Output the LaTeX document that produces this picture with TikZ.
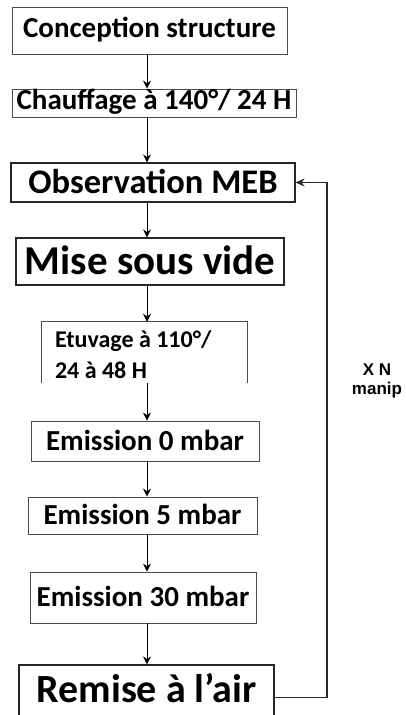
\documentclass[tikz,border=0pt]{standalone}
\usepackage{fontspec}
\setmainfont{Carlito}
\newfontfamily\manipfont{Liberation Sans}
\usetikzlibrary{arrows.meta}
\newcommand\boxfont[1]{\bfseries\fontsize{#1}{#1}\selectfont}

\begin{document}
\begin{tikzpicture}[
  x=1pt, y=-1pt,
  stage/.style={draw=black!70, line width=0.8pt, inner sep=0pt},
  bigstage/.style={stage, draw=black!85, line width=1.1pt},
  flow/.style={-{Stealth[length=8pt, width=8pt]}, line width=1pt},
  loopback/.style={-{Stealth[length=9pt, width=8pt]}, line width=1.8pt, black!85},
]
\useasboundingbox (0,0) rectangle (405,715);
\clip (0,0) rectangle (405,715);

% Arrow axis and return line
\coordinate (axis) at (147,0);
\coordinate (ret) at (327,0);

% Stages
\node[stage, minimum width=275pt, minimum height=47pt, text height=18.5pt,
      font=\boxfont{29}] (concep) at (149.5,30.5) {Conception structure};
\node[stage, minimum width=284pt, minimum height=28pt, text height=18.5pt,
      font=\boxfont{29}] (chauf) at (154,103) {Chauffage à 140°/ 24 H};
\node[bigstage, minimum width=284pt, minimum height=39pt, text height=22pt,
      font=\boxfont{34.5}] (meb) at (153,182.5) {Observation MEB};
\node[bigstage, minimum width=268pt, minimum height=47pt, text height=26pt,
      font=\boxfont{41}] (vide) at (150,261.5) {Mise sous vide};
\node[inner ysep=0pt, inner xsep=13pt, text width=179pt, align=flush left,
      minimum height=61pt, text height=18pt, text depth=29pt,
      font=\bfseries\fontsize{24}{31}\selectfont] (etuv) at (144.5,352.5)
  {Etuvage à 110°/\\24 à 48 H};
\draw[draw=black!70, line width=0.8pt]
  (etuv.south west) |- (etuv.north east) -- (etuv.south east);
\node[stage, minimum width=228pt, minimum height=40pt, text height=18.5pt,
      font=\boxfont{29}] (em0) at (145,441) {Emission 0 mbar};
\node[stage, minimum width=229pt, minimum height=37pt, text height=18.5pt,
      font=\boxfont{29}] (em5) at (142.5,515.5) {Emission 5 mbar};
\node[stage, minimum width=226pt, minimum height=51pt, text height=18.5pt,
      font=\boxfont{29}] (em30) at (143,597.5) {Emission 30 mbar};
\node[bigstage, minimum width=255pt, minimum height=65pt, text height=11pt,
      font=\boxfont{40}] (air) at (146.5,697.5) {Remise à l’air};

% Flow arrows
\draw[flow] (concep.south -| axis) -- (chauf.north -| axis);
\draw[flow] (chauf.south -| axis) -- (meb.north -| axis);
\draw[flow] (meb.south -| axis) -- (vide.north -| axis);
\draw[flow] (vide.south -| axis) -- (etuv.north -| axis);
\draw[flow] (etuv.south -| axis) -- (em0.north -| axis);
\draw[flow] (em0.south -| axis) -- (em5.north -| axis);
\draw[flow] (em5.south -| axis) -- (em30.north -| axis);
\draw[flow] (em30.south -| axis) -- (air.north -| axis);

% Repeat loop
\draw[loopback] (air.east) -- (air.east -| ret) |- (meb.east);
\node[align=center, font=\manipfont\bfseries\fontsize{17}{19}\selectfont]
  (nmanip) at (377,381) {X N\\manip};
\end{tikzpicture}
\end{document}
